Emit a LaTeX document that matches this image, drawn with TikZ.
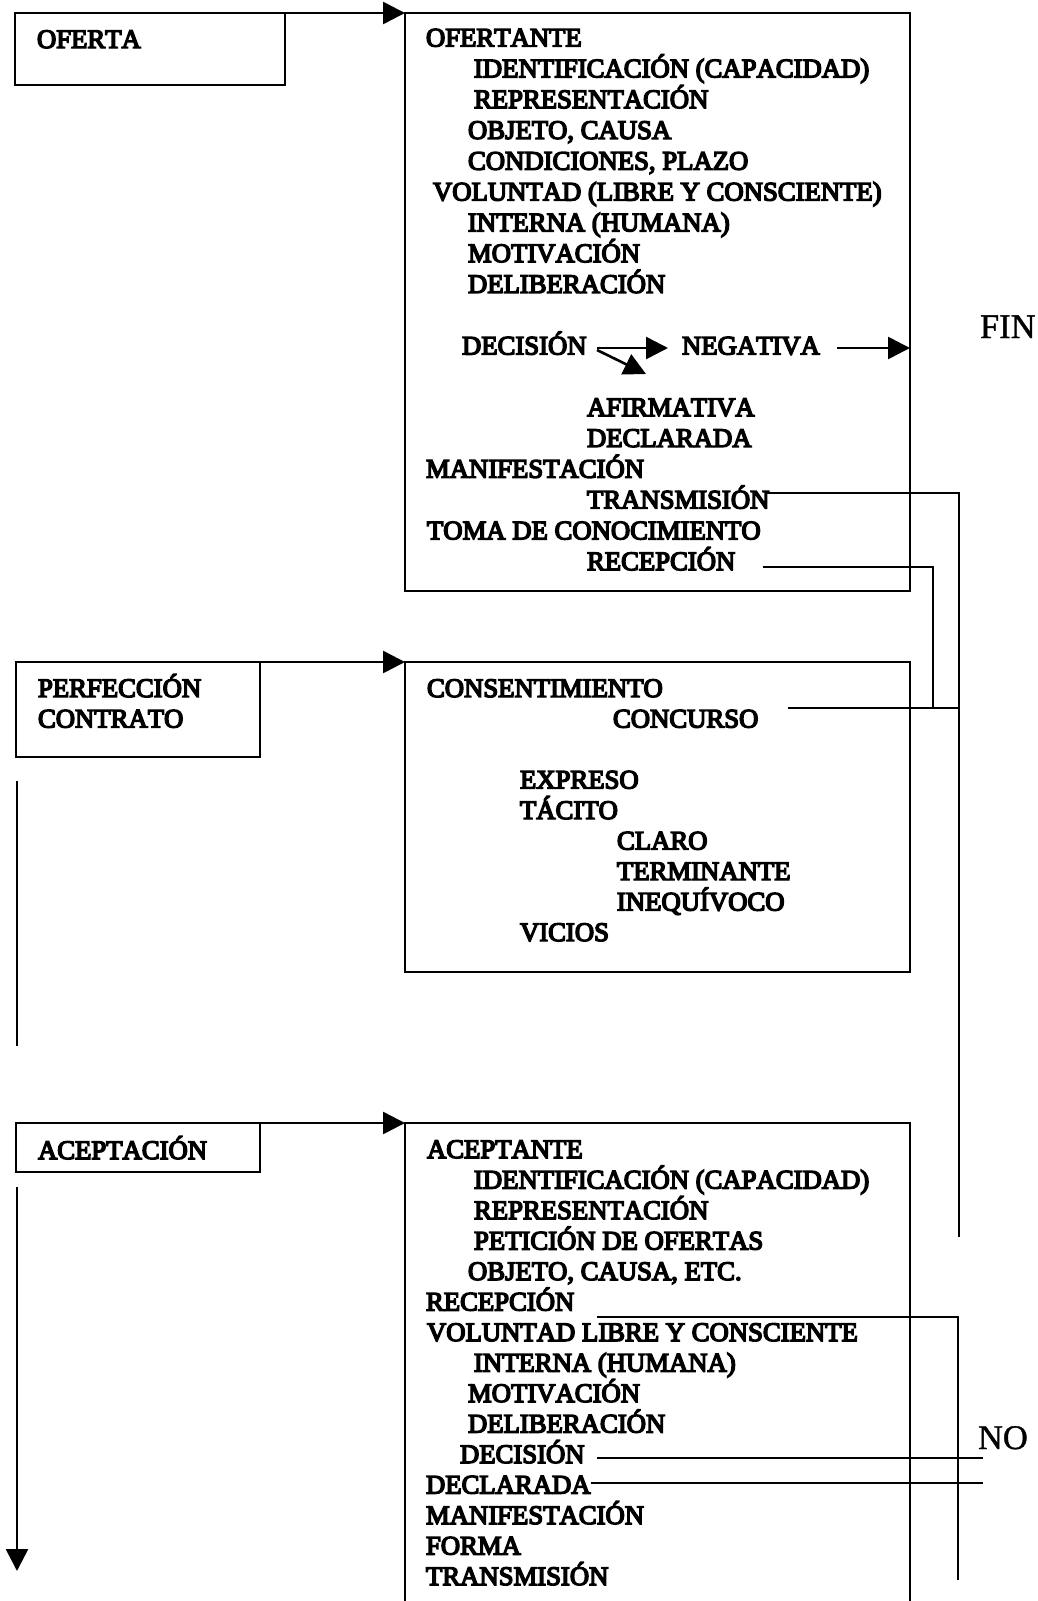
\documentclass[tikz,border=0pt]{standalone}
\usepackage{fontspec}
\usetikzlibrary{arrows.meta}
% text inside the frames: Times-like serif, heavy strokes
\newfontfamily\boxfont[Kerning=Off,FakeBold=5.5]{Liberation Serif}
% the loose words FIN and NO
\newfontfamily\labfont[Kerning=Off,FakeBold=1]{Liberation Serif}

\tikzset{
  frame/.style={draw, line width=2.4pt, inner sep=0pt, outer sep=0pt, anchor=north west},
  txt/.style={anchor=base west, inner sep=0pt, outer sep=0pt,
              font={\boxfont\fontsize{26.7pt}{30.8pt}\selectfont}},
  bigtxt/.style={anchor=base west, inner sep=0pt, outer sep=0pt,
              font={\labfont\fontsize{34.5pt}{40pt}\selectfont}},
  conn/.style={line width=2.6pt},
  arr/.style={conn, -{Triangle[length=22pt,width=22pt]}},
}

\begin{document}
\begin{tikzpicture}[x=1pt,y=-1pt]
\useasboundingbox (0,0) rectangle (1038,1601);

% ---------- left column labels ----------
\node[frame, minimum width=270pt, minimum height=72pt] (oferta) at (15,13) {};
\node[txt] (oferta-t) at (37,48) {OFERTA};

\node[frame, minimum width=244pt, minimum height=95pt] (perf) at (16,662) {};
\node[txt] (perf-t1) at (38,697) {PERFECCIÓN};
\node[txt] (perf-t2) at (38,727.5) {CONTRATO};

\node[frame, minimum width=244pt, minimum height=49pt] (acep) at (16,1123) {};
\node[txt] (acep-t) at (38,1159) {ACEPTACIÓN};

% ---------- right column frames ----------
\node[frame, minimum width=505pt, minimum height=578pt] (box1) at (405,13) {};
\node[frame, minimum width=505pt, minimum height=310pt] (box2) at (405,662) {};
\node[frame, minimum width=505pt, minimum height=520pt] (box3) at (405,1123) {};

% ---------- offer ----------
\node[txt] (o0)  at (426,46.5)  {OFERTANTE};
\node[txt] (o1)  at (474,77.3)  {IDENTIFICACIÓN (CAPACIDAD)};
\node[txt] (o2)  at (474,108.1) {REPRESENTACIÓN};
\node[txt] (o3)  at (468,138.9) {OBJETO, CAUSA};
\node[txt] (o4)  at (468,169.7) {CONDICIONES, PLAZO};
\node[txt] (o5)  at (433,200.5) {VOLUNTAD (LIBRE Y CONSCIENTE)};
\node[txt] (o6)  at (468,231.3) {INTERNA (HUMANA)};
\node[txt] (o7)  at (468,262.1) {MOTIVACIÓN};
\node[txt] (o8)  at (468,292.9) {DELIBERACIÓN};
\node[txt] (o10) at (462,354.5) {DECISIÓN};
\node[txt] (neg) at (682,354.5) {NEGATIVA};
\node[txt] (o12) at (587,416.1) {AFIRMATIVA};
\node[txt] (o13) at (587,446.9) {DECLARADA};
\node[txt] (o14) at (426,477.7) {MANIFESTACIÓN};
\node[txt] (o15) at (587,508.5) {TRANSMISIÓN};
\node[txt] (o16) at (427,539.3) {TOMA DE CONOCIMIENTO};
\node[txt] (o17) at (587,570.1) {RECEPCIÓN};

\node[bigtxt] (fin) at (980,338) {FIN};

% ---------- consent ----------
\node[txt] (c0) at (427,697)   {CONSENTIMIENTO};
\node[txt] (c1) at (613,727.5) {CONCURSO};
\node[txt] (c3) at (520,788.5) {EXPRESO};
\node[txt] (c4) at (520,819)   {TÁCITO};
\node[txt] (c5) at (617,849.5) {CLARO};
\node[txt] (c6) at (617,880)   {TERMINANTE};
\node[txt] (c7) at (617,910.5) {INEQUÍVOCO};
\node[txt] (c8) at (520,941)   {VICIOS};

% ---------- acceptance ----------
\node[txt] (a0)  at (427,1158)   {ACEPTANTE};
\node[txt] (a1)  at (474,1188.5) {IDENTIFICACIÓN (CAPACIDAD)};
\node[txt] (a2)  at (474,1219)   {REPRESENTACIÓN};
\node[txt] (a3)  at (474,1249.5) {PETICIÓN DE OFERTAS};
\node[txt] (a4)  at (468,1280)   {OBJETO, CAUSA, ETC.};
\node[txt] (a5)  at (426,1310.5) {RECEPCIÓN};
\node[txt] (a6)  at (427,1341)   {VOLUNTAD LIBRE Y CONSCIENTE};
\node[txt] (a7)  at (474,1371.5) {INTERNA (HUMANA)};
\node[txt] (a8)  at (468,1402)   {MOTIVACIÓN};
\node[txt] (a9)  at (468,1432.5) {DELIBERACIÓN};
\node[txt] (a10) at (460,1463)   {DECISIÓN};
\node[txt] (a11) at (426,1493.5) {DECLARADA};
\node[txt] (a12) at (426,1524)   {MANIFESTACIÓN};
\node[txt] (a13) at (426,1554.5) {FORMA};
\node[txt] (a14) at (426,1585)   {TRANSMISIÓN};

\node[bigtxt] (no) at (978,1449) {NO};

% ---------- flow from the labels to the frames ----------
\draw[arr] (oferta.north east) -- (box1.north west);
\draw[arr] (perf.north east) -- (box2.north west);
\draw[arr] (acep.north east) -- (box3.north west);

\coordinate (pv1) at (17,781);
\coordinate (pv2) at (17,1046);
\draw[conn] (pv1) -- (pv2);
\coordinate (av1) at (17,1187);
\coordinate (av2) at (17,1571);
\draw[arr] (av1) -- (av2);

% ---------- decision branches ----------
\coordinate (dA) at (597,348);
\coordinate (dB) at (668,348);
\coordinate (dC) at (597,350);
\coordinate (dD) at (646,374);
\draw[arr] (dA) -- (dB);
\draw[arr] (dC) -- (dD);
\coordinate (nA) at (837,348);
\draw[arr] (nA) -- (box1.east |- nA);

% ---------- links between offer, consent and acceptance ----------
\coordinate (trA) at (765,493);
\coordinate (trB) at (959,493);
\coordinate (trC) at (959,1237);
\draw[conn] (trA) -- (trB) -- (trC);

\coordinate (reA) at (763,567);
\coordinate (reB) at (933,567);
\coordinate (reC) at (933,708);
\draw[conn] (reA) -- (reB) -- (reC);

\coordinate (coA) at (788,708);
\coordinate (coB) at (959,708);
\draw[conn] (coA) -- (coB);

\coordinate (rcA) at (597,1317);
\coordinate (rcB) at (958,1317);
\coordinate (rcC) at (958,1580);
\draw[conn] (rcA) -- (rcB) -- (rcC);

\coordinate (dcA) at (597,1458);
\coordinate (dcB) at (983,1458);
\draw[conn] (dcA) -- (dcB);

\coordinate (dlA) at (591,1483);
\coordinate (dlB) at (983,1483);
\draw[conn] (dlA) -- (dlB);
\end{tikzpicture}
\end{document}
